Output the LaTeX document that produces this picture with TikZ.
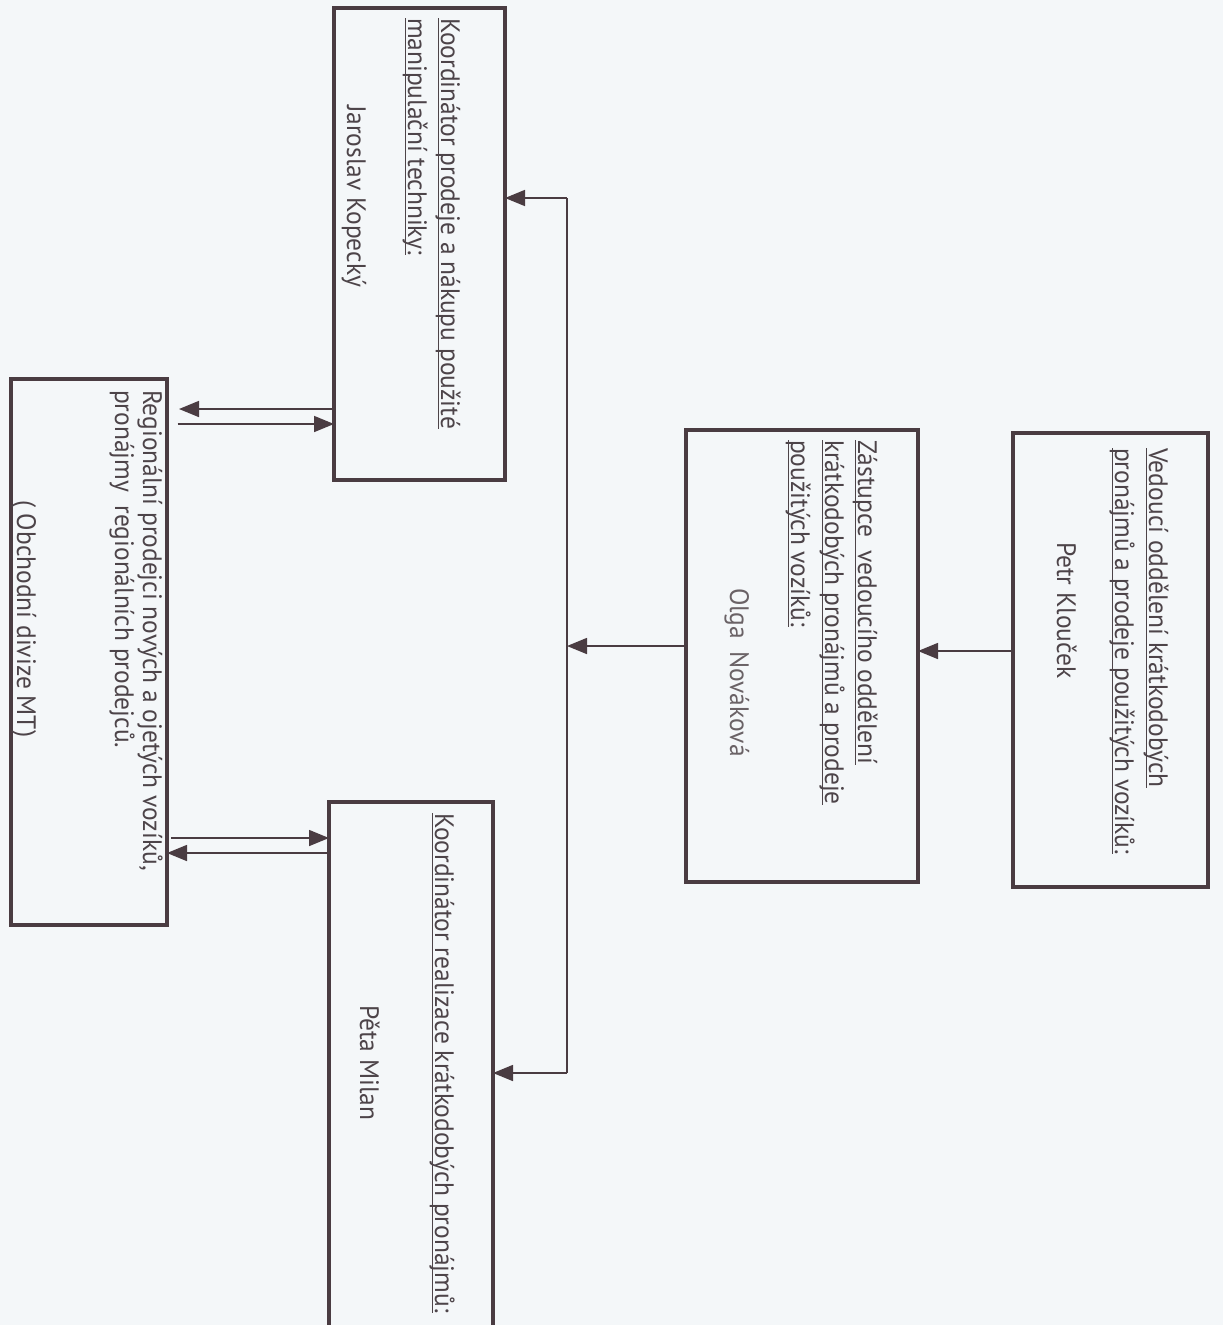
\documentclass[tikz,border=0pt]{standalone}
\usepackage{fontspec}
\setmainfont[FakeStretch=0.955]{PT Sans}
\usetikzlibrary{arrows.meta,fit}
\definecolor{bg}{HTML}{F4F7F9}
\definecolor{ink}{HTML}{4A3C42}
\definecolor{txt}{HTML}{4D4449}
\definecolor{txtlight}{HTML}{6A6266}
\newcommand{\myul}[1]{\setbox0\hbox{#1}\rlap{\rule[-2.6pt]{\wd0}{0.9pt}}\box0}
\tikzset{
  box/.style={draw=ink, line width=2.6pt, inner sep=0pt, outer sep=0pt},
  lbl/.style={rotate=-90, anchor=base west, inner sep=0pt, outer sep=0pt, text=txt,
    font=\fontsize{20}{24}\selectfont},
  conn/.style={draw=ink, line width=1.2pt},
  arr/.style={conn, -{Triangle[length=15pt,width=12pt]}}
}
\begin{document}
\begin{tikzpicture}[x=0.75pt,y=-0.75pt]
\useasboundingbox[fill=bg] (0,0) rectangle (1223,1325);
% boxes
\coordinate (pa) at (1013,433); \coordinate (pb) at (1208,887);
\coordinate (oa) at (686,430);  \coordinate (ob) at (918,882);
\coordinate (ja) at (334,8);    \coordinate (jb) at (505,480);
\coordinate (ra) at (11,379);   \coordinate (rb) at (167,925);
\coordinate (ea) at (329,802);  \coordinate (eb) at (493,1345);
\node[box, fit=(pa)(pb)] (petr) {};
\node[box, fit=(oa)(ob)] (olga) {};
\node[box, fit=(ja)(jb)] (jaro) {};
\node[box, fit=(ra)(rb)] (reg) {};
\node[box, fit=(ea)(eb)] (peta) {};
% texts
\node[lbl] (p1) at (1149,448) {\myul{Vedoucí oddělení krátkodobých}};
\node[lbl] (p2) at (1115,448) {\myul{pronájmů a prodeje použitých vozíků:}};
\node[lbl] (p3) at (1057,542) {Petr Klouček};
\node[lbl] (o1) at (858,440) {\myul{Zástupce\ \ vedoucího oddělení}};
\node[lbl] (o2) at (825,440) {\myul{krátkodobých pronájmů a prodeje}};
\node[lbl] (o3) at (791,440) {\myul{použitých vozíků:}};
\node[lbl, text=txtlight] (o4) at (730,588) {Olga\hspace{0.45em}Nováková};
\node[lbl] (j1) at (441,18) {\myul{Koordinátor prodeje a nákupu použité}};
\node[lbl] (j2) at (408,18) {\myul{manipulační techniky:}};
\node[lbl] (j3) at (347,105) {Jaroslav Kopecký};
\node[lbl] (r1) at (143,390) {Regionální prodejci nových a ojetých vozíků,};
\node[lbl] (r2) at (115,390) {pronájmy\ \ regionálních prodejců.};
\node[lbl] (r3) at (17,500) {( Obchodní divize MT)};
\node[lbl] (e1) at (435,813) {\myul{Koordinátor realizace krátkodobých pronájmů:}};
\node[lbl] (e2) at (360,1005) {Pěta Milan};
% connector rows
\coordinate (y1) at (0,651);
\coordinate (bm) at (567,646);
\coordinate (bt) at (567,198);
\coordinate (bb) at (567,1073);
\coordinate (y2) at (0,409);
\coordinate (y3) at (0,424);
\coordinate (y4) at (0,838);
\coordinate (y5) at (0,853);
% connectors
\draw[arr] (petr.west |- y1) -- (olga.east |- y1);
\draw[arr] (olga.west |- bm) -- (bm);
\draw[conn] (bt) -- (bb);
\draw[arr] (bt) -- (jaro.east |- bt);
\draw[arr] (bb) -- (peta.east |- bb);
\draw[arr, shorten >=9pt] (jaro.west |- y2) -- (reg.east |- y2);
\draw[arr, shorten <=8pt] (reg.east |- y3) -- (jaro.west |- y3);
\draw[arr, shorten <=3pt] (reg.east |- y4) -- (peta.west |- y4);
\draw[arr] (peta.west |- y5) -- (reg.east |- y5);
\end{tikzpicture}
\end{document}
